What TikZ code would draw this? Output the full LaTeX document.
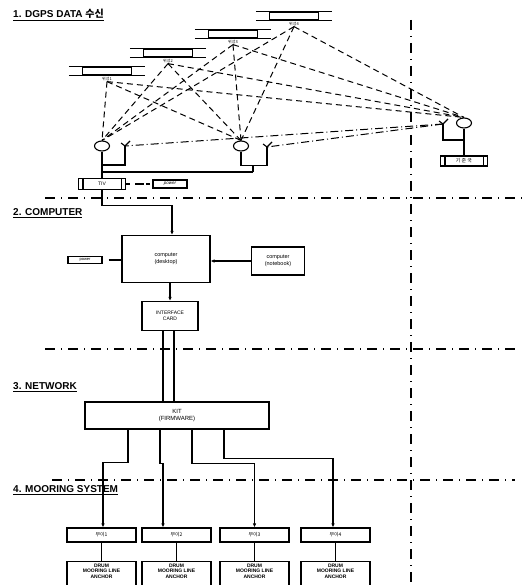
\documentclass[tikz,border=0pt]{standalone}
\usepackage{fontspec}
\setmainfont{Liberation Sans}
\newfontfamily\kr{Noto Sans CJK KR}
\usetikzlibrary{shapes.geometric, arrows.meta, positioning, calc}

\begin{document}
\begin{tikzpicture}[x=1pt, y=-1pt,
          box/.style={rectangle, draw=black, line width=1.1pt, inner sep=1pt, align=center, font=\fontsize{5}{6}\selectfont},
          title/.style={anchor=west, inner sep=0pt, font=\fontsize{10}{11}\selectfont\bfseries},
          sat/.style={rectangle, draw=black, line width=1.2pt, minimum width=49pt, minimum height=8pt, inner sep=0pt},
          rcv/.style={ellipse, draw=black, line width=1.1pt, minimum width=15pt, minimum height=10pt, inner sep=0pt},
          wire/.style={line width=1.1pt},
          link/.style={line width=1pt, dash pattern=on 6pt off 4pt},
          radio/.style={line width=1pt, dash pattern=on 8pt off 3pt on 1pt off 3pt},
          sep/.style={line width=1.1pt, dash pattern=on 10pt off 6pt on 1pt off 6pt},
          arrow/.style={line width=1.1pt, -{Latex[length=4pt,width=3.5pt]}}]

        \useasboundingbox (0,0) rectangle (526,585);
        \clip (0,0) rectangle (526,585);

        % section titles
        \node [title] (t1) at (13,15) {\underline{1. DGPS DATA {\kr 수신}}};
        \node [title] (t2) at (13,213) {\underline{2. COMPUTER}};
        \node [title] (t3) at (13,387) {\underline{3. NETWORK}};
        \node [title] (t4) at (13,490) {\underline{4. MOORING SYSTEM}};

        % separators
        \coordinate (h1w) at (45,198);  \coordinate (h1e) at (526,198);
        \coordinate (h2w) at (45,349);  \coordinate (h2e) at (515,349);
        \coordinate (h3w) at (52,480);  \coordinate (h3e) at (515,480);
        \coordinate (vn) at (411,20);   \coordinate (vs) at (411,585);
        \draw [sep] (h1w) -- (h1e);
        \draw [sep] (h2w) -- (h2e);
        \draw [sep] (h3w) -- (h3e);
        \draw [sep] (vn) -- (vs);

        % satellites
        \foreach \n/\x/\y in {1/107/71, 2/168/53, 3/233/34, 4/294/16} {
          \node [sat] (sat\n) at (\x,\y) {};
          \draw [wire] ([xshift=-13pt]sat\n.north west) -- ([xshift=13pt]sat\n.north east);
          \draw [wire] ([xshift=-13pt]sat\n.south west) -- ([xshift=13pt]sat\n.south east);
          \node [below=0pt of sat\n, inner sep=1pt, font=\kr\fontsize{4}{5}\selectfont] (lab\n) {위성\n};
        }

        % receivers and reference station
        \node [rcv] (rx1) at (102,146) {};
        \node [rcv] (rx2) at (241,146) {};
        \node [rcv] (ref) at (464,123) {};
        \coordinate (ant1) at (125,146);
        \coordinate (ant2) at (267,147);
        \coordinate (ant3) at (443,124);
        \foreach \a in {ant1, ant2, ant3}
          \draw [wire] ([shift={(-4,-3)}]\a) -- (\a) -- ([shift={(5,-5)}]\a);

        \foreach \s in {1,...,4}
          \foreach \r in {rx1, rx2, ref}
            \draw [link] (lab\s.south) -- (\r.north);
        \draw [radio] (ant3) -- (ant1);
        \draw [radio] (ant3) -- (ant2);

        \node [box, minimum width=47pt, minimum height=11pt] (tiv) at (102,184) {TIV};
        \node [box, minimum width=47pt, minimum height=10pt] (rsb) at (464,161) {{\kr 기 준 국}};
        \foreach \b in {tiv, rsb} {
          \draw [wire] ([xshift=5pt]\b.north west) -- ([xshift=5pt]\b.south west);
          \draw [wire] ([xshift=-5pt]\b.north east) -- ([xshift=-5pt]\b.south east);
        }
        \node [box, minimum width=34pt, minimum height=8pt, font=\fontsize{4.5}{5}\selectfont\itshape] (pwr1) at (170,184) {power};

        \draw [wire] (rx1.south) -- (tiv.north);
        \draw [wire] (ant1) -- ++(0,19) -- ++(-23,0);
        \draw [wire] (rx2.south) -- ++(0,14) -| (ant2);
        \coordinate (bus) at (253,172);
        \draw [wire] (bus) -- ++(0,-7);
        \draw [wire] (bus) -- (bus -| rx1.south);
        \draw [wire] (ref.south) -- (rsb.north);
        \draw [wire] (ant3) -- ++(0,16) -- ++(21,0);
        \draw [wire, dash pattern=on 4pt off 5pt on 9pt off 2pt] (tiv) -- (pwr1);

        % computer
        \node [box, minimum width=88pt, minimum height=47pt, font=\fontsize{5.5}{6.5}\selectfont] (pc) at (166,259) {computer\\(desktop)};
        \node [box, minimum width=34pt, minimum height=7pt, font=\fontsize{4}{4.5}\selectfont] (pwr2) at (85,260) {power};
        \node [box, minimum width=53pt, minimum height=28pt, font=\fontsize{5.5}{6.5}\selectfont] (nb) at (278,261) {computer\\(notebook)};
        \node [box, minimum width=56pt, minimum height=29pt] (ifc) at (170,316) {INTERFACE\\CARD};

        \draw [arrow] (tiv.south) -- ++(0,15) -| ([xshift=6pt]pc.north);
        \draw [wire, shorten <=6pt] (pwr2.east) -- (pwr2.east -| pc.west);
        \draw [arrow] (nb.west) -- (nb.west -| pc.east);
        \draw [arrow] (pc.south -| ifc) -- (ifc.north);

        % network
        \node [box, minimum width=184pt, minimum height=27pt, font=\fontsize{6}{7}\selectfont] (kit) at (177,415.5) {KIT\\(FIRMWARE)};
        \draw [wire] ([xshift=-7pt]ifc.south) -- ([xshift=-7pt]ifc.south |- kit.north);
        \draw [wire] ([xshift=4pt]ifc.south) -- ([xshift=4pt]ifc.south |- kit.north);

        % mooring system
        \foreach \i/\x/\dx/\dy/\bx in {1/101.5/-49/33/1.5, 2/176.5/-17/34/-13.5, 3/254.5/15/34/0, 4/335.5/47/29/-2.5} {
          \node [box, minimum width=69pt, minimum height=14pt] (by\i) at (\x,535) {{\kr 부이\i}};
          \node [box, minimum width=69pt, inner ysep=2.5pt, text depth=20pt, font=\fontsize{5}{5.5}\selectfont\bfseries, below=18pt of by\i] (anc\i) {DRUM\\MOORING LINE\\ANCHOR};
          \draw [arrow] ([xshift=\dx pt]kit.south) -- ++(0,\dy) -| ([xshift=\bx pt]by\i.north);
          \draw [wire] (by\i) -- (anc\i);
        }
      \end{tikzpicture}
\end{document}
